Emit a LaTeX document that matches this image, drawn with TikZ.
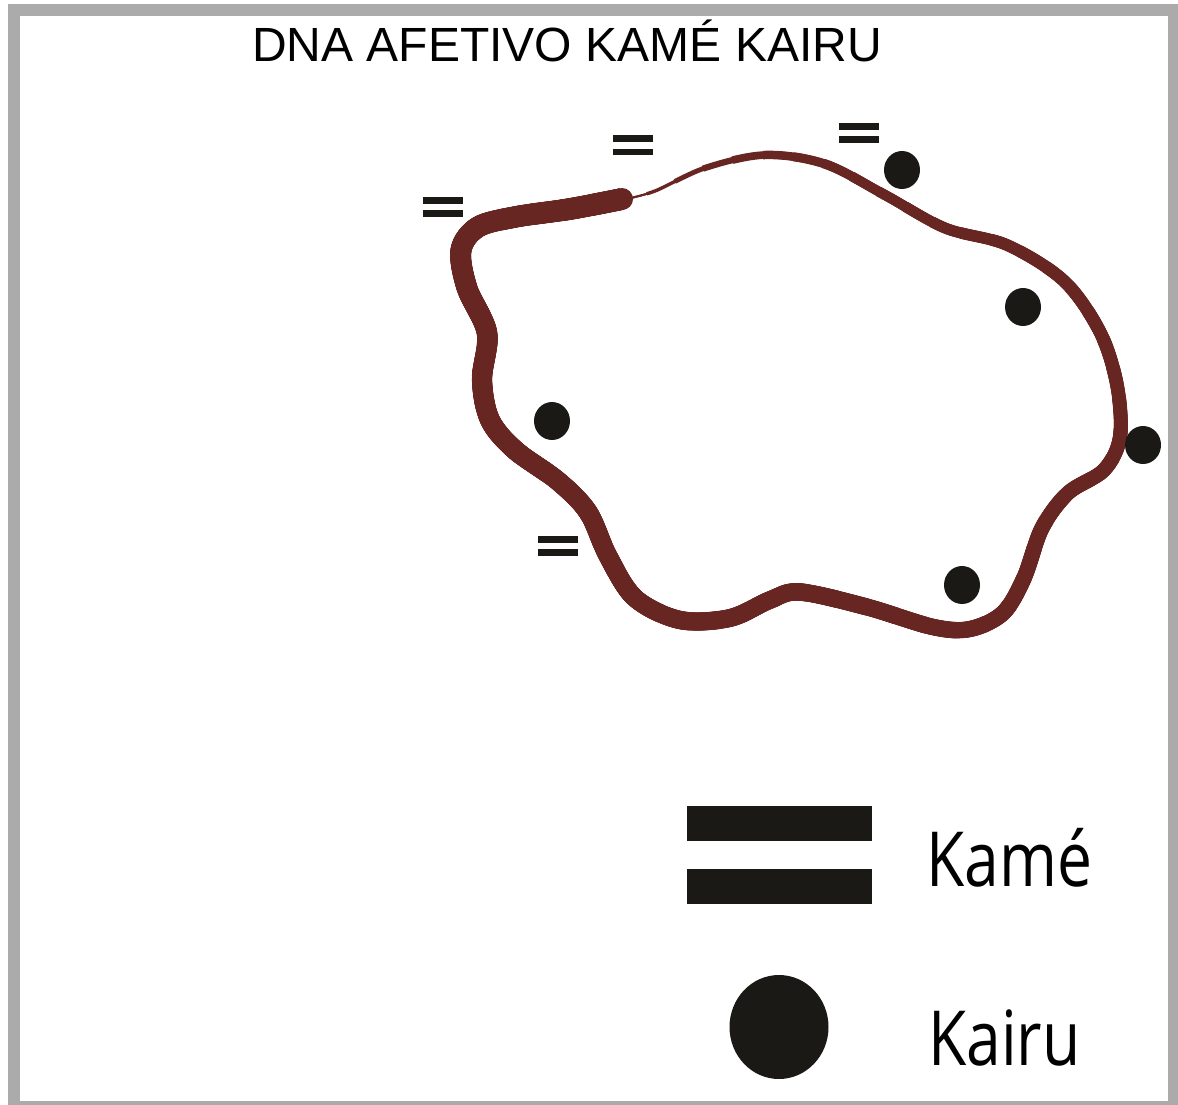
\documentclass[tikz,border=0pt]{standalone}
\usepackage{fontspec}
\setmainfont{Liberation Sans}
\newfontfamily\legendfont{Open Sans}
\usetikzlibrary{shapes.geometric}
\definecolor{dnacol}{RGB}{104,38,34}
\definecolor{inkc}{RGB}{26,25,22}
\definecolor{framec}{RGB}{171,171,171}
\tikzset{
  kairu/.style={ellipse,fill=inkc,draw=none,inner sep=0pt,minimum width=36pt,minimum height=38pt},
  kame/.pic={\fill[inkc] (-20,-10) rectangle (20,-3.2); \fill[inkc] (-20,3.2) rectangle (20,10);},
  legendtext/.style={anchor=base west,inner sep=0pt,font=\legendfont\fontsize{76}{80}\selectfont},
  loopline/.style={draw=dnacol,line cap=butt,line join=round}
}
\begin{document}
\begin{tikzpicture}[x=1pt,y=-1pt]
\useasboundingbox (0,0) rectangle (1178,1105);
\fill[white] (0,0) rectangle (1178,1105);
\fill[framec] (8,4) rectangle (1178,1105);
\fill[white] (20,16) rectangle (1168,1101);

\node[anchor=base,inner sep=0pt,font=\fontsize{48}{56}\selectfont] (title) at (567,62) {DNA AFETIVO KAMÉ KAIRU};

% tapered loop: centre line saved once, drawn with growing width on shorter stretches
\path[save path=\dnapath] plot[smooth,tension=0.55] coordinates {
 (622,199) (570,209) (515,217) (478,227) (461,250) (467,288)
 (487,333) (482,380) (490,420) (515,450) (558,481) (588,512) (608,556)
 (635,598) (680,620) (730,618) (770,600) (800,592) (867,607) (933,627)
 (970,629) (1003,613) (1024,578) (1042,528) (1068,493) (1104,470)
 (1120,437) (1117,385) (1100,332) (1064,281) (1007,245) (945,228)
 (885,195) (825,164) (765,155) (705,168) (655,191) (626,199)};
\path[loopline,line width=2pt,use path=\dnapath];
\foreach \k in {1,...,60}{
  \pgfmathsetmacro\segl{30.8333*\k}
  \pgfmathsetmacro\segs{1-\k/60}
  \pgfmathsetmacro\segw{min(3+19*sqrt(\segs),2+85*\segs)}
  \path[loopline,line width=\segw pt,dash pattern=on \segl pt off 3000pt,use path=\dnapath];
}
\fill[dnacol] (622,199) circle (11);

% Kamé marks on the loop
\pic (m1) at (443,207) {kame};
\pic (m2) at (633,145.5) {kame};
\pic (m3) at (859,133) {kame};
\pic (m4) at (558,546) {kame};

% Kairu marks
\node[kairu] (d1) at (902,170) {};
\node[kairu] (d2) at (1023,307) {};
\node[kairu] (d3) at (1143,445) {};
\node[kairu] (d4) at (962,585) {};
\node[kairu] (d5) at (552,421) {};

% legend
\fill[inkc] (687,806) rectangle (872,841);
\fill[inkc] (687,869) rectangle (872,904);
\node[ellipse,fill=inkc,inner sep=0pt,minimum width=99pt,minimum height=104pt] (legdot) at (779,1027) {};
\node[legendtext] (legkame) at (926,886) {\scalebox{0.82}[1]{Kamé}};
\node[legendtext] (legkairu) at (928,1065) {\scalebox{0.82}[1]{Kairu}};
\end{tikzpicture}
\end{document}
